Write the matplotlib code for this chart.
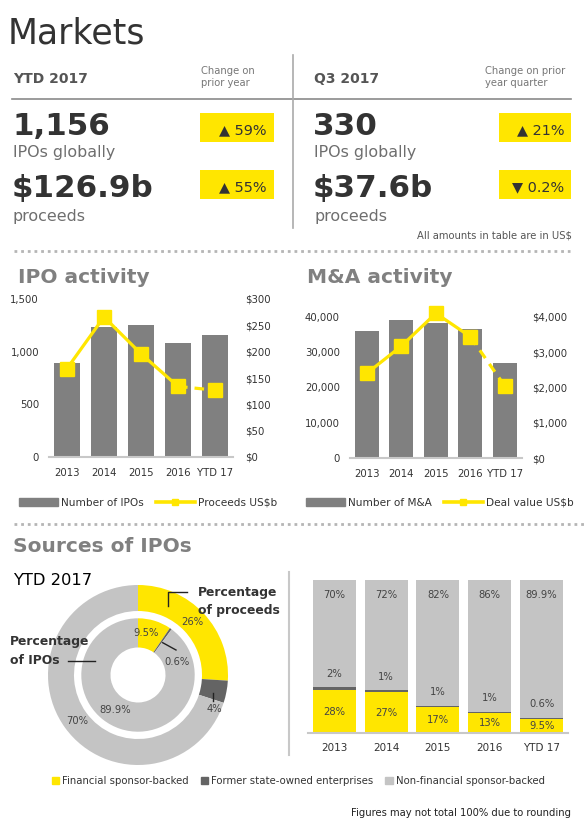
import matplotlib
matplotlib.use("Agg")
import matplotlib.pyplot as plt
from matplotlib.patches import Rectangle, Patch
from matplotlib.lines import Line2D

years = ["2013", "2014", "2015", "2016", "YTD 17"]
ipo_count = [892, 1237, 1253, 1085, 1156]
ipo_proceeds = [168, 266, 196, 134, 126.9]
ma_count = [35950, 38980, 38130, 36430, 26800]
ma_value = [2400, 3170, 4096, 3434, 2038]

sources = ["Financial sponsor-backed", "Former state-owned enterprises",
           "Non-financial sponsor-backed"]
pct_proceeds = [26, 4, 70]
pct_ipos = [9.5, 0.6, 89.9]
fin_backed = [28, 27, 17, 13, 9.5]
state_owned = [2, 1, 1, 1, 0.6]
non_fin = [70, 72, 82, 86, 89.9]

ytd_ipos, ytd_proceeds = "1,156", "$126.9b"
q3_ipos, q3_proceeds = "330", "$37.6b"
changes = ["▲ 59%", "▲ 55%", "▲ 21%", "▼ 0.2%"]

YELLOW = "#FFE600"
BAR = "#808080"
LIGHT = "#C4C4C4"
DARK = "#646464"
INK = "#333333"
SUB = "#6e6e6e"
HEAD = "#808080"

W, H = 584, 830
fig = plt.figure(figsize=(W / 100, H / 100), dpi=100)


def fx(x):
    return x / W


def fy(y):
    return 1 - y / H


def txt(x, y, s, **kw):
    kw.setdefault("va", "baseline")
    return fig.text(fx(x), fy(y), s, **kw)


def hline(x0, x1, y, **kw):
    fig.add_artist(Line2D([fx(x0), fx(x1)], [fy(y), fy(y)], **kw))


def vline(x, y0, y1, **kw):
    fig.add_artist(Line2D([fx(x), fx(x)], [fy(y0), fy(y1)], **kw))


def box(x0, y0, x1, y1):
    fig.add_artist(Rectangle((fx(x0), fy(y1)), (x1 - x0) / W, (y1 - y0) / H,
                             color=YELLOW, transform=fig.transFigure, lw=0))


def axes_px(x0, y0, x1, y1):
    return fig.add_axes([fx(x0), fy(y1), (x1 - x0) / W, (y1 - y0) / H])


# --- header table ---
txt(8, 43, "Markets", fontsize=25, color=INK)
txt(13, 83, "YTD 2017", fontsize=10, weight="bold", color="#555555")
txt(314, 83, "Q3 2017", fontsize=10, weight="bold", color="#555555")
txt(201, 74, "Change on", fontsize=7.2, color="#777777")
txt(201, 86.5, "prior year", fontsize=7.2, color="#777777")
txt(485, 74, "Change on prior", fontsize=7.2, color="#777777")
txt(485, 86.5, "year quarter", fontsize=7.2, color="#777777")
hline(12, 571, 98.5, color="#8a8a8a", lw=1.2)
vline(292.5, 55, 228, color="#aaaaaa", lw=1.2)

for x0, n, p in [(12, ytd_ipos, ytd_proceeds), (313, q3_ipos, q3_proceeds)]:
    txt(x0, 135, n, fontsize=22.3, weight="bold", color=INK)
    txt(x0 + 1, 156.7, "IPOs globally", fontsize=11.4, color=SUB)
    txt(x0, 196.7, p, fontsize=22.3, weight="bold", color=INK)
    txt(x0 + 1, 221, "proceeds", fontsize=11.4, color=SUB)

boxes = [(200.4, 113.3, 273.7, 141.7), (200.4, 170, 273.7, 199),
         (499, 113.3, 571.4, 141.7), (499, 170, 571.4, 199)]
for (x0, y0, x1, y1), s in zip(boxes, changes):
    box(x0, y0, x1, y1)
    txt(x1 - 7, y0 + 21, s, ha="right", fontsize=10.4, color=INK)

txt(572, 239, "All amounts in table are in US$", ha="right", fontsize=7.2,
    color="#555555")

dots = dict(color="#b5b5b5", lw=2, ls=(0, (1, 1.4)))
hline(14, 570, 251, **dots)


# --- combo charts ---
def style(ax, ax2):
    for a in (ax, ax2):
        for s in a.spines.values():
            s.set_visible(False)
        a.tick_params(length=0, labelsize=7.3, labelcolor=INK)
    ax.spines["bottom"].set_visible(True)
    ax.spines["bottom"].set_color("#c8c8c8")
    ax.spines["bottom"].set_linewidth(1.5)
    ax.set_xlim(-0.5, 4.5)
    ax.tick_params(axis="x", pad=8)
    ax.set_xticks(range(len(years)))
    ax.set_xticklabels(years)


def combo(box_px, counts, values, ymax, yticks, ymax2, yticks2, fmt2,
          labels, leg_x, pad_l, pad_r):
    ax = axes_px(*box_px)
    ax2 = ax.twinx()
    x = list(range(len(years)))
    ax.bar(x, counts, width=0.7, color=BAR, zorder=2)
    ax2.plot(x[:4], values[:4], color=YELLOW, lw=2.3)
    ax2.plot(x[3:], values[3:], color=YELLOW, lw=2.3, dashes=(3, 2.2))
    ax2.plot(x, values, ls="none", marker="s", ms=9.5, color=YELLOW)
    ax.set_ylim(0, ymax)
    ax.set_yticks(yticks)
    ax.set_yticklabels([f"{v:,}" for v in yticks])
    ax2.set_ylim(0, ymax2)
    ax2.set_yticks(yticks2)
    ax2.set_yticklabels([fmt2(v) for v in yticks2])
    style(ax, ax2)
    ax.tick_params(axis="y", pad=pad_l)
    ax2.tick_params(axis="y", pad=pad_r)
    handles = [Patch(color=BAR),
               Line2D([], [], color=YELLOW, lw=2.6, marker="s", ms=5)]
    ax.legend(handles, labels, loc="center left",
              bbox_to_anchor=(fx(leg_x), fy(502.7)),
              bbox_transform=fig.transFigure, ncol=2, frameon=False,
              fontsize=7.6, handlelength=3.7, handletextpad=0.3,
              columnspacing=1.1, borderpad=0, borderaxespad=0,
              labelcolor=INK)
    return ax


txt(18, 282.7, "IPO activity", fontsize=14.5, weight="bold", color=HEAD)
combo((48.5, 299, 233.5, 457), ipo_count, ipo_proceeds, 1500,
      [0, 500, 1000, 1500], 300, list(range(0, 301, 50)),
      lambda v: f"${v}", ["Number of IPOs", "Proceeds US$b"], 19, 6.8, 8.3)

txt(306.7, 282.7, "M&A activity", fontsize=14.5, weight="bold", color=HEAD)
combo((349.75, 299, 522, 458), ma_count, ma_value, 45000,
      [0, 10000, 20000, 30000, 40000], 4500, [0, 1000, 2000, 3000, 4000],
      lambda v: f"${v:,}", ["Number of M&A", "Deal value US$b"], 306, 7, 7)

# --- sources of IPOs ---
hline(14, 584, 523.5, **dots)
txt(13, 551.7, "Sources of IPOs", fontsize=14.5, weight="bold", color=HEAD)
txt(13, 585, "YTD 2017", fontsize=11.7, color="black")

colors = [YELLOW, DARK, LIGHT]
cxd, cyd = 138, 675
axd = axes_px(cxd - 95, cyd - 95, cxd + 95, cyd + 95)
axd.pie(pct_proceeds, colors=colors, radius=90, startangle=90,
        counterclock=False, wedgeprops=dict(width=26, lw=0))
axd.pie(pct_ipos, colors=colors, radius=56.7, startangle=90,
        counterclock=False, wedgeprops=dict(width=29.2, lw=0))
axd.set_xlim(-95, 95)
axd.set_ylim(-95, 95)
axd.axis("off")


def dlabel(px, py, s):
    axd.text(px - cxd, cyd - py, s, ha="center", va="center", fontsize=7.2,
             color="#444444")


dlabel(192.5, 621.7, f"{pct_proceeds[0]:g}%")
dlabel(214.7, 709, f"{pct_proceeds[1]:g}%")
dlabel(77, 720.7, f"{pct_proceeds[2]:g}%")
dlabel(145.8, 633.3, f"{pct_ipos[0]:g}%")
dlabel(176.7, 662.3, f"{pct_ipos[1]:g}%")
dlabel(115, 710, f"{pct_ipos[2]:g}%")

lead = dict(color="#222222", lw=1)
fig.add_artist(Line2D([fx(162.7), fx(176)], [fy(642.7), fy(650)], **lead))
vline(213.3, 693.3, 701, **lead)
fig.add_artist(Line2D([fx(167.7), fx(167.7), fx(187)],
                      [fy(606), fy(591.7), fy(591.7)], **lead))
hline(68.3, 95, 660.7, **lead)

txt(198.3, 596, "Percentage", fontsize=8.9, weight="bold", color=INK)
txt(198.3, 614, "of proceeds", fontsize=8.9, weight="bold", color=INK)
txt(10, 645, "Percentage", fontsize=8.9, weight="bold", color=INK)
txt(10, 664, "of IPOs", fontsize=8.9, weight="bold", color=INK)

vline(289, 572, 755, color="#c8c8c8", lw=1.5)

axs = axes_px(308.25, 580, 567.6, 733.3)
xs = list(range(len(years)))
lower = [f + s for f, s in zip(fin_backed, state_owned)]
axs.bar(xs, fin_backed, width=0.83, color=YELLOW)
axs.bar(xs, state_owned, bottom=fin_backed, width=0.83, color=DARK)
axs.bar(xs, non_fin, bottom=lower, width=0.83, color=LIGHT)
for i in xs:
    axs.text(i, fin_backed[i] / 2, f"{fin_backed[i]:g}%", ha="center",
             va="center", fontsize=7.2, color="#444444")
    axs.text(i, lower[i] + 9, f"{state_owned[i]:g}%", ha="center",
             va="center", fontsize=7.2, color="#444444")
    axs.text(i, 90, f"{non_fin[i]:g}%", ha="center", va="center",
             fontsize=7.2, color="#444444")
axs.set_xlim(-0.5, 4.5)
axs.set_ylim(0, 100)
axs.set_xticks(xs)
axs.set_xticklabels(years)
axs.set_yticks([])
for s in axs.spines.values():
    s.set_visible(False)
axs.spines["bottom"].set_visible(True)
axs.spines["bottom"].set_color("#c8c8c8")
axs.spines["bottom"].set_linewidth(1.5)
axs.tick_params(length=0, labelsize=7.5, labelcolor=INK, pad=7.2)

fig.legend([Patch(color=c) for c in colors], sources, loc="center left",
           bbox_to_anchor=(fx(52), fy(781)), ncol=3, frameon=False,
           fontsize=7.3, handlelength=0.7, handleheight=0.7,
           handletextpad=0.3, columnspacing=1.2, borderpad=0,
           borderaxespad=0, labelcolor=INK)

txt(571, 816, "Figures may not total 100% due to rounding", ha="right",
    fontsize=7.2, color="#222222")

fig.savefig("out.png", dpi=100)
